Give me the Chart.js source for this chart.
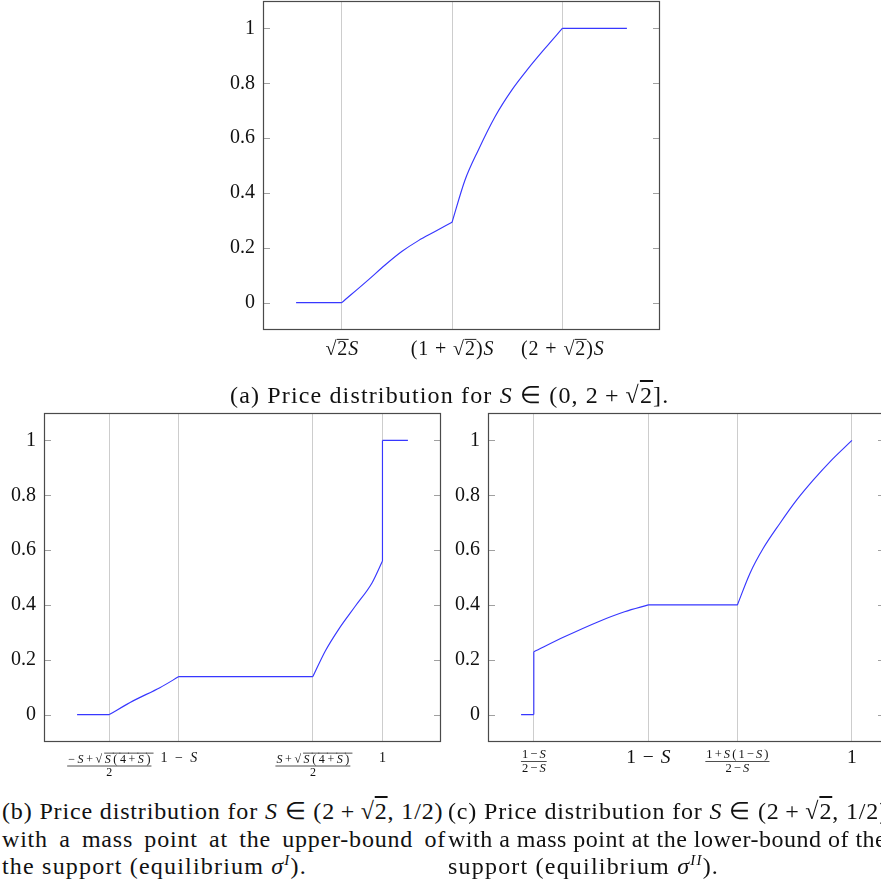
<!DOCTYPE html>
<html>
<head>
<meta charset="utf-8">
<script src="https://cdn.jsdelivr.net/npm/chart.js@4.4.0/dist/chart.umd.min.js"></script>
<style>
  html, body { margin: 0; padding: 0; background: #fff; }
  body { width: 881px; height: 884px; overflow: hidden; position: relative; font-family: "Liberation Serif", serif; color: #111; }
  canvas { position: absolute; }
  .cap { position: absolute; font-size: 24px; line-height: 27.5px; letter-spacing: 0.8px; white-space: nowrap; }
  .just { text-align: justify; text-align-last: justify; white-space: normal; }
  .ov { text-decoration: overline; }
  i { font-style: italic; }
  sup { font-size: 15px; line-height: 0; }
</style>
</head>
<body>
<canvas id="chartA" width="480" height="365" style="left:200px; top:0px"></canvas>
<canvas id="chartB" width="450" height="385" style="left:0px; top:400px"></canvas>
<canvas id="chartC" width="460" height="385" style="left:440px; top:400px"></canvas>

<div class="cap" style="left:230px; top:382px; letter-spacing:1.15px">(a) Price distribution for <i>S</i> ∈ (0, 2&thinsp;+&thinsp;√<span class="ov">2</span>].</div>

<div class="cap" style="left:2px; top:798px; letter-spacing:0.85px">(b) Price distribution for <i>S</i> ∈ (2&thinsp;+&thinsp;√<span class="ov">2</span>, 1/2)</div>
<div class="cap just" style="left:2px; top:826px; width:444px">with a mass point at the upper-bound of</div>
<div class="cap" style="left:2px; top:853px; letter-spacing:1.2px">the support (equilibrium <i>σ</i><sup><i>I</i></sup>).</div>

<div class="cap" style="left:448px; top:798px; letter-spacing:0.85px">(c) Price distribution for <i>S</i> ∈ (2&thinsp;+&thinsp;√<span class="ov">2</span>, 1/2)</div>
<div class="cap" style="left:448px; top:826px; letter-spacing:0.5px">with a mass point at the lower-bound of the</div>
<div class="cap" style="left:448px; top:853px; letter-spacing:1.2px">support (equilibrium <i>σ</i><sup><i>II</i></sup>).</div>

<script>
// y axis shared by the three panels
var yTicks = [0, 0.2, 0.4, 0.6, 0.8, 1];

// null entries split the curve into separate pieces (kinks / jumps)
// (a) S in (0, 2+sqrt2], S = 0.25
var aX = [0.25, 0.3536, 0.3536,
          0.3536, 0.4138, 0.4518, 0.4895, 0.5273, 0.565, 0.6036, 0.6036,
          0.6036, 0.633, 0.663, 0.701, 0.739, 0.7765, 0.8143, 0.8536, 0.8536,
          0.8536, 1.0];
var aY = [0, 0, null,
          0, 0.083, 0.137, 0.186, 0.226, 0.259, 0.293, null,
          0.293, 0.447, 0.556, 0.678, 0.775, 0.854, 0.927, 1, null,
          1, 1];
var aTickVals = [0.3536, 0.6036, 0.8536];
var aTickLabels = ['√{2}S', '(1 + √{2})S', '(2 + √{2})S'];

// (b) mass point at upper bound, S = 0.4
var bX = [0.4, 0.4633, 0.4633,
          0.4633, 0.51, 0.5626, 0.6, 0.6,
          0.6, 0.8633, 0.8633,
          0.8633, 0.8877, 0.9139, 0.9468, 0.9797, 1.0, 1.0,
          1.0, 1.0, 1.0,
          1.0, 1.05];
var bY = [0, 0, null,
          0, 0.05, 0.098, 0.1385, null,
          0.1385, 0.1385, null,
          0.1385, 0.232, 0.311, 0.396, 0.481, 0.56, null,
          0.56, 1, null,
          1, 1];
var bTickVals = [0.4633, 0.6, 0.8633, 1];
var bTickLabels = ['−S+√{S(4+S)}|2', '1 − S', 'S+√{S(4+S)}|2', '1'];

// (c) mass point at lower bound, S = 0.4
var cX = [0.35, 0.375, 0.375,
          0.375, 0.375, 0.375,
          0.375, 0.4351, 0.5007, 0.5533, 0.6, 0.6,
          0.6, 0.775, 0.775,
          0.775, 0.7996, 0.8258, 0.8587, 0.8916, 0.9243, 0.9572, 1.0];
var cY = [0, 0, null,
          0, 0.229, null,
          0.229, 0.2836, 0.338, 0.375, 0.4, null,
          0.4, 0.4, null,
          0.4, 0.515, 0.6065, 0.698, 0.783, 0.856, 0.923, 1];
var cTickVals = [0.375, 0.6, 0.775, 1];
var cTickLabels = ['1−S|2−S', '1 − S', '1+S(1−S)|2−S', '1'];

var FONT = '"Liberation Serif", serif';

// draws a small math string: S italic, {..} goes under the radical bar
function drawMath(ctx, str, cx, base, size, spacing) {
  var items = [];
  var over = false;
  for (var ch of str) {
    if (ch === '{') { over = true; continue; }
    if (ch === '}') { over = false; continue; }
    items.push({ ch: ch, it: ch === 'S', over: over });
  }
  items.forEach(function (it) {
    ctx.font = (it.it ? 'italic ' : '') + size + 'px ' + FONT;
    it.w = ctx.measureText(it.ch).width + spacing;
  });
  var total = items.reduce(function (s, it) { return s + it.w; }, 0) - spacing;
  var xx = cx - total / 2;
  ctx.textAlign = 'left';
  ctx.textBaseline = 'alphabetic';
  items.forEach(function (it) {
    ctx.font = (it.it ? 'italic ' : '') + size + 'px ' + FONT;
    ctx.fillText(it.ch, xx, base);
    if (it.over) {
      ctx.beginPath();
      ctx.lineWidth = Math.max(0.8, size / 20);
      ctx.moveTo(xx - 0.5, base - size * 0.78);
      ctx.lineTo(xx + it.w + 0.5, base - size * 0.78);
      ctx.stroke();
    }
    xx += it.w;
  });
  return total;
}

function mathWidth(ctx, str, size, spacing) {
  var w = 0;
  for (var ch of str) {
    if (ch === '{' || ch === '}') continue;
    ctx.font = (ch === 'S' ? 'italic ' : '') + size + 'px ' + FONT;
    w += ctx.measureText(ch).width + spacing;
  }
  return w - spacing;
}

var framePlugin = {
  id: 'frame',
  afterDraw: function (chart, args, o) {
    var ctx = chart.ctx, a = chart.chartArea;
    var x = chart.scales.x, y = chart.scales.y;
    ctx.save();
    // inward tick marks on both sides
    ctx.strokeStyle = '#a0a0a0';
    ctx.lineWidth = 1;
    yTicks.forEach(function (v) {
      var py = Math.round(y.getPixelForValue(v)) + 0.5;
      ctx.beginPath();
      ctx.moveTo(a.left, py); ctx.lineTo(a.left + 7, py);
      ctx.moveTo(a.right - 7, py); ctx.lineTo(a.right, py);
      ctx.stroke();
    });
    // box
    ctx.strokeStyle = '#4a4a4a';
    ctx.lineWidth = 1.2;
    ctx.strokeRect(Math.round(a.left) + 0.5, Math.round(a.top) + 0.5,
      Math.round(a.right - a.left) - 1, Math.round(a.bottom - a.top) - 1);
    // x tick labels
    ctx.fillStyle = '#111';
    ctx.strokeStyle = '#222';
    o.vals.forEach(function (v, i) {
      var px = x.getPixelForValue(v);
      var lab = o.labels[i];
      if (lab.indexOf('|') >= 0) {
        var parts = lab.split('|');
        var barY = a.bottom + o.barDy;
        var wn = mathWidth(ctx, parts[0], o.fracSize, o.fracSp);
        var wd = mathWidth(ctx, parts[1], o.fracSize, o.fracSp);
        drawMath(ctx, parts[0], px, barY - 3, o.fracSize, o.fracSp);
        drawMath(ctx, parts[1], px, barY + o.fracSize * 0.75 + 1.5, o.fracSize, o.fracSp);
        var bw = Math.max(wn, wd) + 2;
        ctx.beginPath();
        ctx.lineWidth = 0.8;
        ctx.moveTo(px - bw / 2, barY + 0.5);
        ctx.lineTo(px + bw / 2, barY + 0.5);
        ctx.stroke();
      } else {
        drawMath(ctx, lab, px, a.bottom + o.textDy, o.size, o.sp);
      }
    });
    ctx.restore();
  }
};

function makeChart(id, xs, ys, tickVals, tickLabels, yWidth, xHeight, pad, lab) {
  var real = xs.filter(function (v, i) { return ys[i] !== null; });
  var lo = Math.min.apply(null, real), hi = Math.max.apply(null, real);
  var span = hi - lo;
  var pts = xs.map(function (v, i) { return { x: v, y: ys[i] }; });
  return new Chart(document.getElementById(id).getContext('2d'), {
    type: 'line',
    data: {
      datasets: [{
        data: pts,
        borderColor: 'rgb(55, 55, 255)',
        borderWidth: 1.15,
        pointRadius: 0,
        cubicInterpolationMode: 'monotone',
        spanGaps: false,
        fill: false
      }]
    },
    options: {
      responsive: false,
      animation: false,
      events: [],
      layout: { padding: pad },
      plugins: {
        legend: { display: false },
        tooltip: { enabled: false },
        frame: lab
      },
      scales: {
        x: {
          type: 'linear',
          min: lo - 0.1 * span,
          max: hi + 0.1 * span,
          afterBuildTicks: function (s) { s.ticks = tickVals.map(function (v) { return { value: v }; }); },
          afterFit: function (s) { s.height = xHeight; s.paddingLeft = 0; s.paddingRight = 0; },
          ticks: { display: false },
          grid: { color: '#cdcdcd', lineWidth: 1, drawTicks: false },
          border: { display: false }
        },
        y: {
          type: 'linear',
          min: -0.1,
          max: 1.1,
          afterBuildTicks: function (s) { s.ticks = yTicks.map(function (v) { return { value: v }; }); },
          afterFit: function (s) { s.width = yWidth; s.paddingTop = 0; s.paddingBottom = 0; },
          grid: { display: false, drawTicks: false },
          border: { display: false },
          ticks: {
            padding: 8,
            color: '#111',
            font: { family: FONT, size: 20 },
            callback: function (v) { return String(v); }
          }
        }
      }
    },
    plugins: [framePlugin]
  });
}

makeChart('chartA', aX, aY, aTickVals, aTickLabels, 63, 35,
  { top: 1, right: 20, left: 0, bottom: 0 },
  { vals: aTickVals, labels: aTickLabels, size: 20, sp: 0.9, textDy: 25, barDy: 20, fracSize: 12, fracSp: 1 });

makeChart('chartB', bX, bY, bTickVals, bTickLabels, 44, 43,
  { top: 13, right: 9, left: 0, bottom: 0 },
  { vals: bTickVals, labels: bTickLabels, size: 14, sp: 2, textDy: 19.5, barDy: 23.5, fracSize: 12, fracSp: 2.6 });

makeChart('chartC', cX, cY, cTickVals, cTickLabels, 48, 43,
  { top: 13, right: 15, left: 0, bottom: 0 },
  { vals: cTickVals, labels: cTickLabels, size: 19.5, sp: 1, textDy: 21, barDy: 19, fracSize: 12.5, fracSp: 2.1 });
</script>
</body>
</html>
